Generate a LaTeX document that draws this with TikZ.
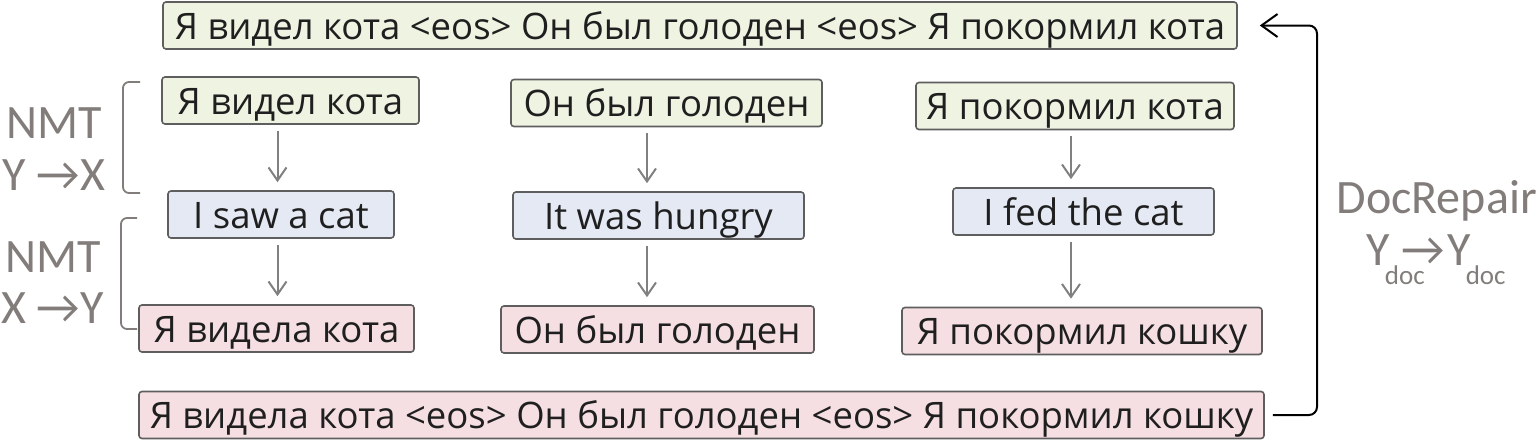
\documentclass[tikz,border=0pt]{standalone}
\usepackage{fontspec}
\setmainfont{Open Sans}
\newfontfamily\labelfont{Carlito}
\usetikzlibrary{arrows.meta,positioning,calc}
\definecolor{srcgreen}{HTML}{EEF3E2}
\definecolor{engblue}{HTML}{E4E9F4}
\definecolor{tgtpink}{HTML}{F5DFE3}
\definecolor{boxline}{HTML}{5E5E5E}
\definecolor{labelgray}{HTML}{827D7A}
\newcommand{\subdoc}{\raisebox{-19pt}{\fontsize{27}{29}\selectfont doc}}

\begin{document}
\begin{tikzpicture}[
			x=1pt, y=-1pt,
			sent/.style={rectangle, draw=boxline, line width=1.6pt, rounded corners=3pt, text height=37pt, text depth=10pt, inner sep=0pt, text=black!88, font=\fontsize{36.5}{40}\selectfont},
			src/.style={sent, fill=srcgreen},
			eng/.style={sent, fill=engblue},
			tgt/.style={sent, fill=tgtpink},
			arrow/.style={-{Straight Barb[length=13pt,width=18pt]}, line width=2pt, draw=gray, shorten <=6pt, shorten >=8pt},
			feedback/.style={-{Straight Barb[length=16pt,width=23pt]}, line width=2pt, rounded corners=8pt},
			bracket/.style={draw=labelgray, line width=1.8pt, rounded corners=6pt},
			label/.style={text=labelgray, font=\labelfont\fontsize{48}{50}\selectfont, anchor=base}
			]
			\useasboundingbox (0,0) rectangle (1540,442);
			
			% Document-level source and repaired output
			\node[src, minimum width=1074pt] (srcdoc) at (700,25.5) {Я видел кота <eos> Он был голоден <eos> Я покормил кота};
			\node[tgt, minimum width=1125pt] (tgtdoc) at (701.5,415) {Я видела кота <eos> Он был голоден <eos> Я покормил кошку};
			
			% Sentences, one column each
			\node[src, minimum width=257pt] (s1) at (290.5,100.5) {Я видел кота};
			\node[src, minimum width=311pt] (s2) at (666.5,103) {Он был голоден};
			\node[src, minimum width=318pt] (s3) at (1075,106) {Я покормил кота};
			
			\node[eng, minimum width=226pt] (e1) at (281,214.5) {I saw a cat};
			\node[eng, minimum width=291pt] (e2) at (658.5,215.5) {It was hungry};
			\node[eng, minimum width=261pt] (e3) at (1083.5,211.5) {I fed the cat};
			
			\node[tgt, minimum width=275pt] (t1) at (276.5,328.5) {Я видела кота};
			\node[tgt, minimum width=313pt] (t2) at (657.5,329.5) {Он был голоден};
			\node[tgt, minimum width=360pt] (t3) at (1082,331) {Я покормил кошку};
			
			% Translation arrows
			\coordinate (col1) at (277.5,0);
			\coordinate (col2) at (647,0);
			\coordinate (col3) at (1071,0);
			\draw[arrow] (s1.south -| col1) -- (e1.north -| col1);
			\draw[arrow] (e1.south -| col1) -- (t1.north -| col1);
			\draw[arrow] (s2.south -| col2) -- (e2.north -| col2);
			\draw[arrow] (e2.south -| col2) -- (t2.north -| col2);
			\draw[arrow] (s3.south -| col3) -- (e3.north -| col3);
			\draw[arrow] (e3.south -| col3) -- (t3.north -| col3);
			
			% DocRepair loop
			\coordinate (loop) at (1317,0);
			\draw[feedback, shorten <=8pt, shorten >=22pt] (tgtdoc.east) -- (tgtdoc.east -| loop) -- (srcdoc.east -| loop) -- (srcdoc.east);
			
			% Model brackets and labels
			\draw[bracket] (140,82) -- (123,82) -- (123,193) -- (140,193);
			\draw[bracket] (137,218) -- (121,218) -- (121,329) -- (137,329);
			\node[label] (nmt1) at (54,138) {NMT};
			\node[label] (dir1) at (54,190) {Y →X};
			\node[label] (nmt2) at (53.5,272) {NMT};
			\node[label] (dir2) at (52.5,323) {X →Y};
			\node[label, anchor=base west] (repair) at (1333,213) {DocRepair};
			\node[label, anchor=base west] (repairdir) at (1363,265) {Y\kern-5pt\rlap{\subdoc}\kern17pt →\kern2pt Y\kern-5pt\subdoc};
			
		\end{tikzpicture}
\end{document}
